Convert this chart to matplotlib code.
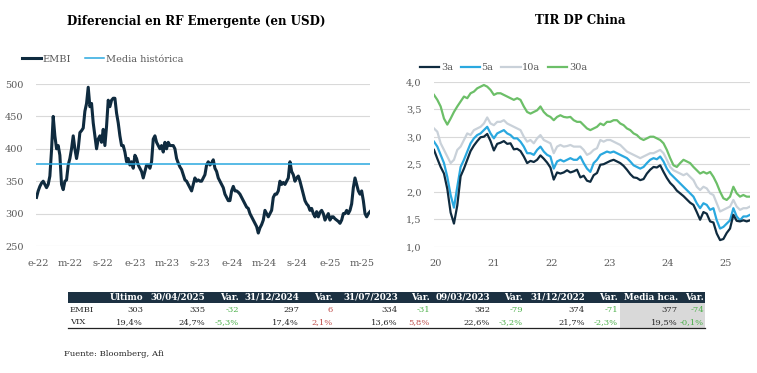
import matplotlib
matplotlib.use("Agg")
import matplotlib.pyplot as plt
import matplotlib.dates as mdates
from matplotlib.patches import Rectangle
import numpy as np
import pandas as pd

plt.rcParams['font.family'] = ['DejaVu Serif']

# ---------------- DATA ----------------
left_title = "Diferencial en RF Emergente (en USD)"
right_title = "TIR DP China"
source_text = "Fuente: Bloomberg, Afi"

embi_start, embi_end = "2021-12-26", "2025-06-01"
embi = [325, 335, 342, 347, 350, 345, 340, 345, 358, 398, 450, 420, 400, 405, 390, 345, 337, 350, 352, 375,
        385, 400, 420, 400, 385, 400, 425, 428, 432, 458, 470, 495, 465, 470, 440, 420, 400, 415, 420, 410,
        430, 405, 435, 475, 465, 475, 478, 478, 455, 440, 420, 405, 405, 395, 380, 385, 375, 380, 370, 390,
        385, 375, 370, 365, 355, 365, 375, 375, 370, 380, 415, 420, 410, 405, 400, 405, 395, 410, 400, 410,
        405, 405, 405, 400, 385, 378, 372, 368, 360, 352, 350, 345, 340, 335, 345, 355, 350, 352, 350, 350,
        355, 360, 375, 380, 375, 378, 383, 370, 365, 355, 350, 345, 340, 330, 325, 320, 320, 335, 342, 335,
        335, 333, 330, 325, 320, 315, 310, 308, 300, 295, 290, 285, 280, 270, 278, 283, 290, 305, 300, 295,
        300, 305, 325, 330, 330, 335, 350, 345, 348, 345, 350, 355, 380, 365, 360, 350, 355, 358, 350, 340,
        330, 320, 315, 312, 305, 308, 300, 295, 303, 295, 302, 305, 300, 290, 295, 300, 290, 295, 295, 292,
        290, 288, 285, 290, 300, 300, 305, 300, 305, 315, 340, 355, 345, 335, 330, 335, 320, 300, 295, 300, 303]
media_historica = 377
embi_ticklabels = ["e-22", "m-22", "s-22", "e-23", "m-23", "s-23", "e-24", "m-24", "s-24", "e-25", "m-25"]
embi_yticks = [250, 300, 350, 400, 450, 500]

china_start, china_end = "2019-12-20", "2025-06-07"
tir_3a = [2.76, 2.60, 2.45, 2.33, 2.05, 1.62, 1.42, 1.75, 2.28, 2.42, 2.58, 2.74, 2.84, 2.92, 2.99, 3.00, 3.05, 2.92, 2.75, 2.87,
          2.89, 2.92, 2.87, 2.88, 2.77, 2.78, 2.74, 2.64, 2.52, 2.56, 2.54, 2.58, 2.66, 2.60, 2.53, 2.44, 2.22, 2.35, 2.33, 2.35,
          2.39, 2.35, 2.37, 2.40, 2.26, 2.29, 2.20, 2.18, 2.30, 2.34, 2.49, 2.50, 2.53, 2.56, 2.58, 2.55, 2.52, 2.47, 2.40, 2.32,
          2.26, 2.25, 2.21, 2.23, 2.33, 2.40, 2.45, 2.44, 2.48, 2.36, 2.25, 2.16, 2.10, 2.02, 1.97, 1.92, 1.86, 1.80, 1.76, 1.63,
          1.49, 1.63, 1.60, 1.46, 1.44, 1.24, 1.12, 1.14, 1.25, 1.33, 1.58, 1.47, 1.46, 1.48, 1.46, 1.48]
tir_5a = [2.91, 2.82, 2.67, 2.52, 2.27, 1.94, 1.71, 2.09, 2.45, 2.58, 2.73, 2.88, 2.97, 3.03, 3.06, 3.12, 3.18, 3.06, 2.97, 3.06,
          3.09, 3.12, 3.06, 3.03, 2.97, 2.97, 2.91, 2.82, 2.70, 2.70, 2.67, 2.76, 2.82, 2.73, 2.67, 2.64, 2.42, 2.55, 2.58, 2.55,
          2.58, 2.61, 2.58, 2.58, 2.64, 2.52, 2.42, 2.36, 2.52, 2.58, 2.67, 2.70, 2.73, 2.71, 2.73, 2.70, 2.67, 2.64, 2.61, 2.55,
          2.48, 2.45, 2.42, 2.45, 2.52, 2.58, 2.61, 2.59, 2.64, 2.55, 2.42, 2.33, 2.27, 2.21, 2.15, 2.09, 2.03, 1.97, 1.91, 1.79,
          1.70, 1.79, 1.76, 1.67, 1.70, 1.48, 1.33, 1.36, 1.42, 1.48, 1.70, 1.55, 1.48, 1.55, 1.55, 1.58]
tir_10a = [3.15, 3.09, 2.88, 2.76, 2.64, 2.52, 2.58, 2.76, 2.82, 2.94, 3.06, 3.03, 3.12, 3.15, 3.18, 3.24, 3.35, 3.24, 3.21, 3.27,
           3.27, 3.30, 3.24, 3.21, 3.18, 3.15, 3.12, 3.00, 2.91, 2.94, 2.88, 2.97, 3.03, 2.94, 2.91, 2.88, 2.70, 2.82, 2.85, 2.82,
           2.83, 2.85, 2.82, 2.82, 2.82, 2.76, 2.67, 2.70, 2.76, 2.79, 2.94, 2.91, 2.94, 2.94, 2.91, 2.88, 2.85, 2.79, 2.73, 2.70,
           2.67, 2.64, 2.61, 2.64, 2.67, 2.70, 2.70, 2.73, 2.76, 2.70, 2.58, 2.45, 2.39, 2.36, 2.33, 2.30, 2.33, 2.27, 2.21, 2.09,
           2.03, 2.09, 2.06, 1.97, 1.94, 1.79, 1.64, 1.67, 1.70, 1.73, 1.85, 1.73, 1.67, 1.70, 1.70, 1.73]
tir_30a = [3.76, 3.67, 3.55, 3.33, 3.22, 3.33, 3.45, 3.55, 3.64, 3.73, 3.70, 3.79, 3.82, 3.88, 3.91, 3.94, 3.91, 3.85, 3.76, 3.79,
           3.79, 3.76, 3.73, 3.70, 3.67, 3.70, 3.67, 3.55, 3.45, 3.42, 3.45, 3.48, 3.55, 3.45, 3.39, 3.36, 3.30, 3.36, 3.39, 3.36,
           3.35, 3.36, 3.30, 3.27, 3.27, 3.21, 3.15, 3.12, 3.15, 3.18, 3.24, 3.21, 3.27, 3.27, 3.30, 3.30, 3.24, 3.21, 3.15, 3.12,
           3.06, 3.03, 2.97, 2.94, 2.97, 3.00, 3.00, 2.97, 2.94, 2.88, 2.76, 2.61, 2.48, 2.45, 2.52, 2.58, 2.55, 2.52, 2.45, 2.39,
           2.33, 2.36, 2.33, 2.36, 2.27, 2.15, 2.00, 1.88, 1.85, 1.91, 2.09, 1.97, 1.91, 1.94, 1.91, 1.91]
china_years = [2020, 2021, 2022, 2023, 2024, 2025]
china_ticklabels = ["20", "21", "22", "23", "24", "25"]
china_yticks = [1.0, 1.5, 2.0, 2.5, 3.0, 3.5, 4.0]

table_header = ["", "Último", "30/04/2025", "Var.", "31/12/2024", "Var.", "31/07/2023", "Var.",
                "09/03/2023", "Var.", "31/12/2022", "Var.", "Media hca.", "Var."]
row_embi = ["EMBI", "303", "335", "-32", "297", "6", "334", "-31", "382", "-79", "374", "-71", "377", "-74"]
row_vix = ["VIX", "19,4%", "24,7%", "-5,3%", "17,4%", "2,1%", "13,6%", "5,8%", "22,6%", "-3,2%", "21,7%", "-2,3%", "19,5%", "-0,1%"]

# ---------------- STYLE ----------------
W, H = 757, 373
C_NAVY = "#0f2b3f"
C_BLUE = "#2aa8df"
C_GRAY = "#c9d1d9"
C_GREEN = "#6cbf68"
C_GRID = "#d9d9d9"
C_TICK = "#595959"
C_POS = "#c0504d"
C_NEG = "#4cb04a"

fig = plt.figure(figsize=(W / 100, H / 100), dpi=100)


def fig_rect(x0, y0, x1, y1):
    return [x0 / W, 1 - y1 / H, (x1 - x0) / W, (y1 - y0) / H]


def style_axes(ax):
    for s in ax.spines.values():
        s.set_visible(False)
    ax.tick_params(length=0, labelsize=7, labelcolor=C_TICK)
    ax.grid(axis="y", color=C_GRID, lw=0.8)
    ax.set_axisbelow(True)


# ---------------- LEFT CHART ----------------
axL = fig.add_axes(fig_rect(36, 84, 370, 246))
style_axes(axL)
embi_dates = pd.date_range(embi_start, embi_end, periods=len(embi))
axL.plot(embi_dates, embi, color=C_NAVY, lw=2.2, label="EMBI", solid_joinstyle="round")
axL.axhline(media_historica, color=C_BLUE, lw=1.1, label="Media histórica")
axL.set_ylim(250, 500)
axL.set_yticks(embi_yticks)
axL.set_xlim(embi_dates[0] - pd.Timedelta(days=2), embi_dates[-1])
tick_dates = pd.date_range("2022-01-01", periods=len(embi_ticklabels), freq="4MS")
axL.set_xticks(tick_dates)
axL.set_xticklabels(embi_ticklabels)
axL.tick_params(axis="y", pad=9)
axL.tick_params(axis="x", pad=9)
legL = axL.legend(loc="center left", bbox_to_anchor=(22 / W, 1 - 59 / H), bbox_transform=fig.transFigure,
                  ncol=2, frameon=False, fontsize=7, handlelength=2.0, handletextpad=0.15,
                  columnspacing=1.4, borderpad=0, borderaxespad=0)
for t in legL.get_texts():
    t.set_color(C_TICK)
fig.text(196 / W, 1 - 21 / H, left_title, ha="center", va="center", fontsize=8.6, fontweight="bold")

# ---------------- RIGHT CHART ----------------
axR = fig.add_axes(fig_rect(434, 81.7, 750, 246.7))
style_axes(axR)
china_dates = pd.date_range(china_start, china_end, periods=len(tir_3a))
axR.plot(china_dates, tir_30a, color=C_GREEN, lw=1.6, label="30a")
axR.plot(china_dates, tir_10a, color=C_GRAY, lw=1.6, label="10a")
axR.plot(china_dates, tir_5a, color=C_BLUE, lw=1.6, label="5a")
axR.plot(china_dates, tir_3a, color=C_NAVY, lw=1.6, label="3a")
axR.set_ylim(1.0, 4.0)
axR.set_yticks(china_yticks)
axR.set_yticklabels([f"{v:.1f}".replace(".", ",") for v in china_yticks])
axR.set_xlim(china_dates[0], china_dates[-1])
axR.set_xticks([pd.Timestamp(f"{y}-01-01") for y in china_years])
axR.set_xticklabels(china_ticklabels)
axR.tick_params(axis="y", pad=9)
axR.tick_params(axis="x", pad=9)
h, l = axR.get_legend_handles_labels()
order = [3, 2, 1, 0]
legR = axR.legend([h[i] for i in order], [l[i] for i in order], loc="center left",
                  bbox_to_anchor=(420 / W, 1 - 68 / H), bbox_transform=fig.transFigure,
                  ncol=4, frameon=False, fontsize=7, handlelength=2.0, handletextpad=0.15,
                  columnspacing=0.8, borderpad=0, borderaxespad=0)
for t in legR.get_texts():
    t.set_color(C_TICK)
fig.text(580 / W, 1 - 21 / H, right_title, ha="center", va="center", fontsize=8.6, fontweight="bold")

# ---------------- TABLE ----------------
axT = fig.add_axes([0, 0, 1, 1])
axT.set_xlim(0, W)
axT.set_ylim(H, 0)
axT.axis("off")
tx0, tx1 = 68, 705
axT.add_patch(Rectangle((tx0, 291.5), tx1 - tx0, 11.3, color="#1c3142", lw=0))
axT.add_patch(Rectangle((620, 303), tx1 - 620, 24.5, color="#d9d9d9", lw=0))
axT.plot([tx0, tx1], [328, 328], color="#222222", lw=0.9)
col_right = [None, 143, 205, 239, 299, 333, 398, 430, 490, 523, 585, 618, 678, 704]
for j, txt in enumerate(table_header):
    if j == 0:
        continue
    axT.text(col_right[j], 297.3, txt, ha="right", va="center", fontsize=6.3, fontweight="bold", color="white")
for row, yc in ((row_embi, 310.5), (row_vix, 322.5)):
    for j, txt in enumerate(row):
        if j == 0:
            axT.text(70, yc, txt, ha="left", va="center", fontsize=6, color="#262626")
            continue
        col = "#262626"
        if table_header[j] == "Var.":
            col = C_NEG if txt.startswith("-") else C_POS
        axT.text(col_right[j], yc, txt, ha="right", va="center", fontsize=6, color=col)

fig.text(64 / W, 1 - 354 / H, source_text, ha="left", va="center", fontsize=6.1, color="#262626")

fig.savefig("out.png", dpi=100)
